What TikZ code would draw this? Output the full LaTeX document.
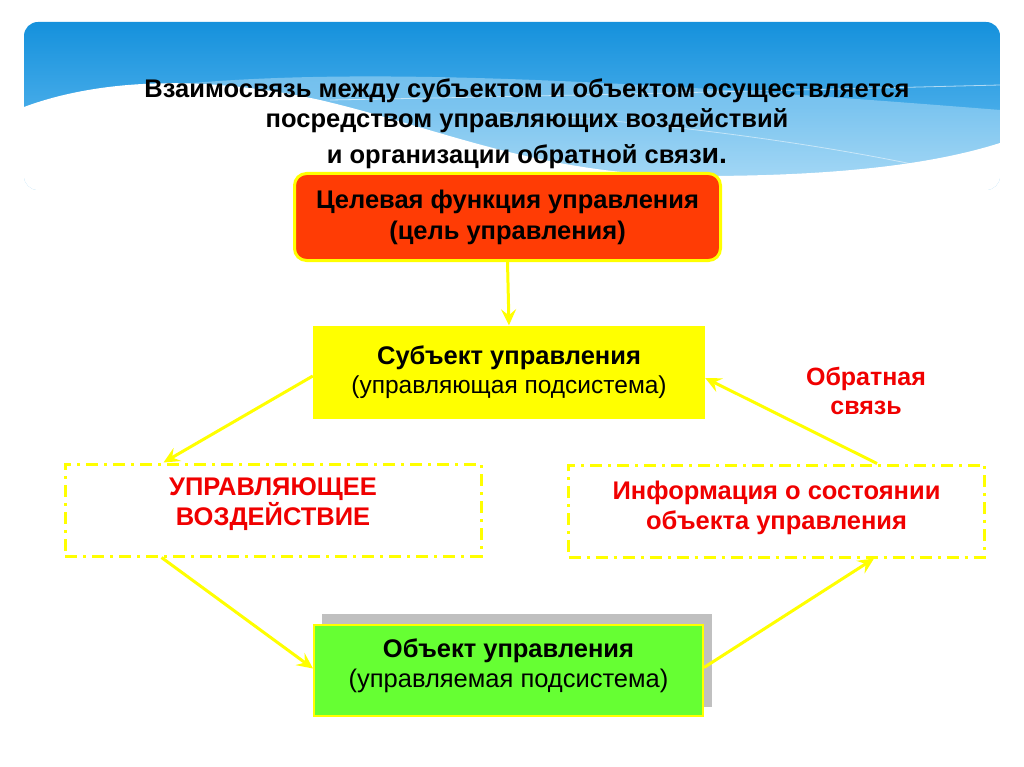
\documentclass[tikz,border=0pt]{standalone}
\usepackage{fontspec}
\setmainfont{Liberation Sans}
\usetikzlibrary{arrows.meta,calc}
\definecolor{bannerTop}{HTML}{1591DC}
\definecolor{bannerMid}{HTML}{43AAE8}
\definecolor{bannerLow}{HTML}{A9DAF6}
\definecolor{goalRed}{HTML}{FF3C05}
\definecolor{subjYellow}{HTML}{FFFF00}
\definecolor{objGreen}{HTML}{66FF33}
\definecolor{txtRed}{HTML}{F00000}
\definecolor{shadowGrey}{HTML}{C0C0C0}
\tikzset{
  boxtext/.style={align=center, font=\fontsize{24.5}{29}\selectfont, text=black},
  dashbox/.style={draw=subjYellow, line width=3pt, dash pattern=on 12pt off 6pt on 3pt off 6pt, minimum width=416pt, minimum height=92pt},
  redtext/.style={align=center, text=txtRed, font=\bfseries\fontsize{25.5}{30}\selectfont},
  titletext/.style={font=\bfseries\fontsize{25.5}{30}\selectfont},
  flow/.style={draw=subjYellow, line width=3pt, -{Stealth[length=16pt,width=15pt,inset=6pt]}},
}
\begin{document}
\begin{tikzpicture}[x=1pt,y=-1pt]
\useasboundingbox (0,0) rectangle (1024,767);
\fill[white] (0,0) rectangle (1024,767);
% banner
\begin{scope}
  \clip[rounded corners=14pt] (24,190) -- (24,22) -- (1000,22) -- (1000,190) -- cycle;
  \shade[top color=bannerTop, bottom color=bannerLow, middle color=bannerMid] (24,22) rectangle (1000,190);
  \fill[bannerLow, opacity=0.55] (24,112) .. controls (200,60) and (500,70) .. (1000,110) -- (1000,190) -- (24,190) -- cycle;
  \fill[white] (24,107) .. controls (110,75) and (220,78) .. (320,100) .. controls (440,128) and (540,176) .. (700,176) .. controls (850,176) and (940,162) .. (1000,143) -- (1000,190) -- (24,190) -- cycle;
  \draw[white, opacity=0.6, line width=0.8pt] (330,100) .. controls (600,95) and (800,90) .. (1000,85);
  \draw[white, opacity=0.5, line width=0.8pt] (500,112) .. controls (700,125) and (850,150) .. (940,170);
\end{scope}
% title
\node[titletext] (t1) at (527,91) {Взаимосвязь между субъектом и объектом осуществляется};
\node[titletext] (t2) at (527,121) {посредством управляющих воздействий};
\node[titletext] (t3) at (527,157) {и организации обратной связ{\fontsize{28.5}{30}\selectfont и.}};
% boxes
\node[boxtext, font=\bfseries\fontsize{25.5}{31}\selectfont, fill=goalRed, draw=subjYellow, line width=3pt, rounded corners=12pt, minimum width=426pt, minimum height=87pt] (goal) at (507.5,217) {Целевая функция управления\\(цель управления)};
\node[boxtext, fill=subjYellow, minimum width=392pt, minimum height=93pt] (subj) at (509,372) {{\bfseries\fontsize{25.5}{29}\selectfont Субъект управления}\\(управляющая подсистема)};
\node[dashbox] (act) at (273,510) {};
\node[redtext] (actText) at (273,504) {УПРАВЛЯЮЩЕЕ\\ВОЗДЕЙСТВИЕ};
\node[dashbox] (info) at (776.5,511) {};
\node[redtext] (infoText) at (776.5,507.5) {Информация о состоянии\\объекта управления};
\fill[shadowGrey] (322,614) rectangle (712,707);
\node[fill=objGreen, draw=subjYellow, line width=2pt, minimum width=389pt, minimum height=91pt] (obj) at (508.5,670.5) {};
\node[boxtext, font=\fontsize{25.5}{30}\selectfont] (objText) at (508.5,666) {{\bfseries Объект управления}\\(управляемая подсистема)};
\node[redtext, font=\bfseries\fontsize{25}{29}\selectfont] (fb) at (866,391) {Обратная\\связь};
% connectors
\draw[flow] (goal.south) -- (subj.north);
\coordinate (actIn) at ($(act.north west)+(100,0)$);
\coordinate (actOut) at ($(act.south west)+(98,0)$);
\coordinate (infoIn) at ($(info.south west)+(307,0)$);
\coordinate (infoOut) at ($(info.north west)+(310,0)$);
\draw[flow] ($(subj.west)+(0,4)$) -- (actIn);
\draw[flow] (actOut) -- ($(obj.west)+(0,-2)$);
\draw[flow] ($(obj.east)+(0,-3)$) -- (infoIn);
\draw[flow] (infoOut) -- ($(subj.east)+(0,6)$);
\end{tikzpicture}
\end{document}
